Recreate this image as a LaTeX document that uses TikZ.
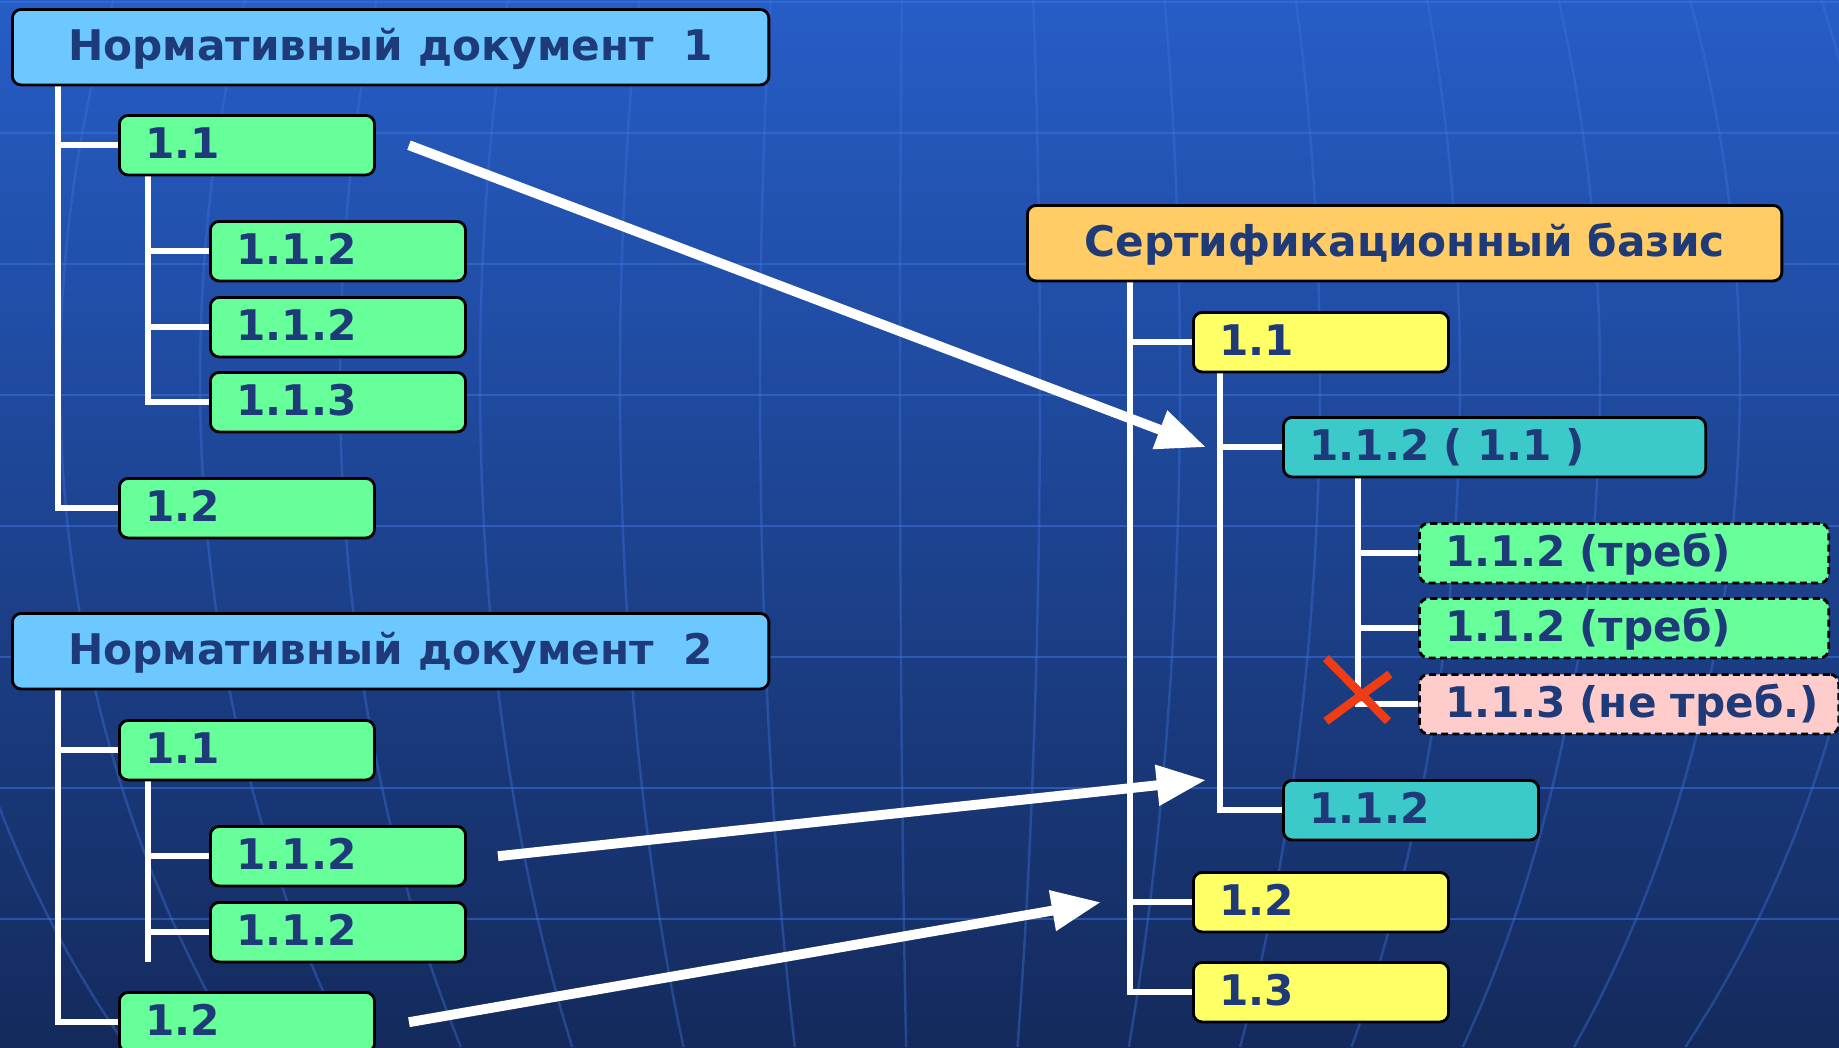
\documentclass[tikz,border=0pt]{standalone}
\usepackage{fontspec}
\setmainfont{DejaVu Sans}
\usetikzlibrary{arrows.meta}
\definecolor{bgtop}{HTML}{265DC6}
\definecolor{bgmid}{HTML}{1E4593}
\definecolor{bgbot}{HTML}{142A5C}
\definecolor{gridc}{HTML}{3D72DC}
\definecolor{txt}{HTML}{1E3A78}
\definecolor{hdr}{HTML}{6CC8FF}
\definecolor{grn}{HTML}{66FF99}
\definecolor{ylw}{HTML}{FFFF66}
\definecolor{org}{HTML}{FFCC66}
\definecolor{teal}{HTML}{3CC9C9}
\definecolor{pnk}{HTML}{FFCCCC}
\definecolor{redx}{HTML}{F03C14}
\pgfdeclarelayer{bg}
\pgfdeclarelayer{lines}
\pgfsetlayers{bg,lines,main}
\tikzset{
  bx/.style={draw=black, line width=0.8pt, rounded corners=2.5pt, anchor=north west,
    inner xsep=0.26cm, inner ysep=0pt, align=left, text=txt,
    font=\fontsize{12}{14}\selectfont\bfseries, text height=0.73em, text depth=0pt,
    minimum height=0.595cm},
  sm/.style={bx, text width=2.03cm},
  hd/.style={draw=black, line width=0.8pt, rounded corners=2.5pt, anchor=north west,
    inner sep=0pt, text=txt, font=\fontsize{12}{14}\selectfont\bfseries,
    text height=0.73em, text depth=0pt, minimum height=0.755cm},
  dsh/.style={dash pattern=on 2pt off 1.2pt},
  conn/.style={draw=white, line width=1.7pt},
  arr/.style={draw=white, line width=2.8pt, -{Triangle[length=14pt,width=11pt]}},
  gridh/.style={draw=gridc, line width=0.8pt, opacity=0.55},
  gridv/.style={draw=gridc, line width=0.7pt, opacity=0.4},
  xmark/.style={draw=redx, line width=2.4pt}
}
\begin{document}
\begin{tikzpicture}[x=0.01cm,y=-0.01cm]
\useasboundingbox (0,0) rectangle (1839,1047);
\clip (0,0) rectangle (1839,1047);
\begin{pgfonlayer}{bg}
  \shade[top color=bgtop, middle color=bgmid, bottom color=bgbot] (0,0) rectangle (1839,1047);
  \foreach \yy in {2,133,264,395,526,657,788,919} {
    \draw[gridh] (0,\yy) -- (1839,\yy);
  }
  \foreach \j in {-7,...,7} {
    \draw[gridv] plot[domain=0:1047, samples=25, smooth]
      ({930 + (900 + 140*\j - 930)*sqrt(1-((\x-380)/1100)^2)}, {\x});
  }
\end{pgfonlayer}

% Document 1
\node[hd, fill=hdr, minimum width=7.56cm] (nd1) at (11,8) {Нормативный документ\ \ 1};
\node[sm, fill=grn] (a11) at (118,114) {1.1};
\node[sm, fill=grn] (a112) at (209,220) {1.1.2};
\node[sm, fill=grn] (a112b) at (209,296) {1.1.2};
\node[sm, fill=grn] (a113) at (209,371) {1.1.3};
\node[sm, fill=grn] (a12) at (118,477) {1.2};

% Document 2
\node[hd, fill=hdr, minimum width=7.56cm] (nd2) at (11,612) {Нормативный документ\ \ 2};
\node[sm, fill=grn] (b11) at (118,719) {1.1};
\node[sm, fill=grn] (b112) at (209,825) {1.1.2};
\node[sm, fill=grn] (b112b) at (209,901) {1.1.2};
\node[sm, fill=grn] (b12) at (118,991) {1.2};

% Certification basis
\node[hd, fill=org, minimum width=7.54cm] (cb) at (1026,204) {Сертификационный базис};
\node[sm, fill=ylw] (c11) at (1192,311) {1.1};
\node[bx, fill=teal, text width=3.70cm] (c112) at (1282,416) {1.1.2 ( 1.1 )};
\node[bx, dsh, fill=grn, text width=3.57cm] (d1) at (1418,522) {1.1.2 (треб)};
\node[bx, dsh, fill=grn, text width=3.57cm] (d2) at (1418,597) {1.1.2 (треб)};
\node[bx, dsh, fill=pnk, text width=3.67cm] (d3) at (1418,673) {\mbox{1.1.3 (не треб.)}};
\node[sm, fill=teal] (c112b) at (1282,779) {1.1.2};
\node[sm, fill=ylw] (c12) at (1192,871) {1.2};
\node[sm, fill=ylw] (c13) at (1192,961) {1.3};

% tree connectors
\begin{pgfonlayer}{lines}
  \draw[conn] ([xshift=0.47cm]nd1.south west) |- (a11.west);
  \draw[conn] ([xshift=0.47cm]nd1.south west) |- (a12.west);
  \draw[conn] ([xshift=0.30cm]a11.south west) |- (a112.west);
  \draw[conn] ([xshift=0.30cm]a11.south west) |- (a112b.west);
  \draw[conn] ([xshift=0.30cm]a11.south west) |- (a113.west);

  \draw[conn] ([xshift=0.47cm]nd2.south west) |- (b11.west);
  \draw[conn] ([xshift=0.47cm]nd2.south west) |- (b12.west);
  \coordinate (b11end) at ([xshift=0.30cm,yshift=-1.81cm]b11.south west);
  \draw[conn] ([xshift=0.30cm]b11.south west) -- (b11end);
  \draw[conn] ([xshift=0.30cm]b11.south west) |- (b112.west);
  \draw[conn] ([xshift=0.30cm]b11.south west) |- (b112b.west);

  \draw[conn] ([xshift=1.04cm]cb.south west) |- (c11.west);
  \draw[conn] ([xshift=1.04cm]cb.south west) |- (c12.west);
  \draw[conn] ([xshift=1.04cm]cb.south west) |- (c13.west);
  \draw[conn] ([xshift=0.28cm]c11.south west) |- (c112.west);
  \draw[conn] ([xshift=0.28cm]c11.south west) |- (c112b.west);
  \draw[conn] ([xshift=0.76cm]c112.south west) |- (d1.west);
  \draw[conn] ([xshift=0.76cm]c112.south west) |- (d2.west);
  \draw[conn] ([xshift=0.76cm]c112.south west) |- (d3.west);
\end{pgfonlayer}

% red cross
\coordinate (x1a) at ([xshift=-0.92cm,yshift=0.46cm]d3.west);
\coordinate (x1b) at ([xshift=-0.30cm,yshift=-0.17cm]d3.west);
\coordinate (x2a) at ([xshift=-0.92cm,yshift=-0.17cm]d3.west);
\coordinate (x2b) at ([xshift=-0.28cm,yshift=0.30cm]d3.west);
\draw[xmark] (x1a) -- (x1b);
\draw[xmark] (x2a) -- (x2b);

% arrows
\coordinate (s1) at ([xshift=0.33cm]a11.east);
\coordinate (e1) at ([xshift=-0.76cm]c112.west);
\coordinate (s2) at ([xshift=0.31cm]b112.east);
\coordinate (e2) at (1206,780);
\coordinate (s3) at ([xshift=0.33cm]b12.east);
\coordinate (e3) at ([xshift=-0.91cm]c12.west);
\draw[arr] (s1) -- (e1);
\draw[arr] (s2) -- (e2);
\draw[arr] (s3) -- (e3);
\end{tikzpicture}
\end{document}
